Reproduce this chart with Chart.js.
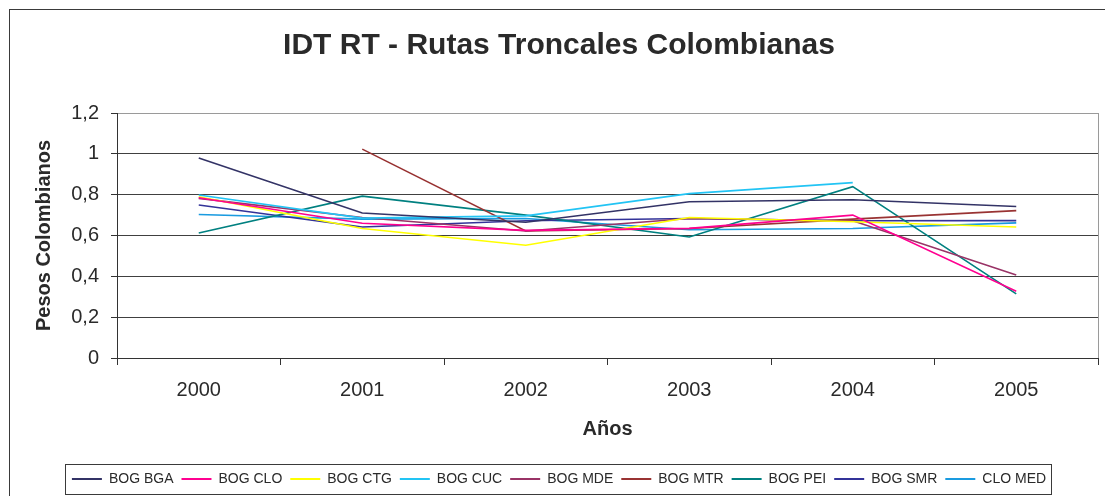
<!DOCTYPE html>
<html>
<head>
<meta charset="utf-8">
<script src="https://cdn.jsdelivr.net/npm/chart.js@4/dist/chart.umd.min.js"></script>
<style>
  html, body { margin: 0; padding: 0; background: #ffffff; }
  canvas { display: block; }
</style>
</head>
<body>
<canvas id="chart" width="1105" height="496"></canvas>
<script>
// Años (categorías del eje X)
const years = ['2000', '2001', '2002', '2003', '2004', '2005'];

// Nombres de las rutas y sus colores
const routeNames = ['BOG BGA', 'BOG CLO', 'BOG CTG', 'BOG CUC', 'BOG MDE', 'BOG MTR', 'BOG PEI', 'BOG SMR', 'CLO MED'];
const routeColors = ['#333366', '#ff0090', '#ffff00', '#22c4f4', '#993366', '#993333', '#008080', '#333399', '#1a9be0'];

// Índice IDT por ruta y año (pesos colombianos); null = sin dato
const bogBga = [0.98, 0.71, 0.665, 0.765, 0.775, 0.742];
const bogClo = [0.785, 0.66, 0.625, 0.635, 0.70, 0.327];
const bogCtg = [0.79, 0.634, 0.552, 0.688, 0.667, 0.642];
const bogCuc = [0.798, 0.685, 0.696, 0.805, 0.859, null];
const bogMde = [0.782, 0.688, 0.622, 0.683, 0.672, 0.407];
const bogMtr = [null, 1.023, 0.622, 0.634, 0.68, 0.722];
const bogPei = [0.612, 0.793, 0.70, 0.593, 0.839, 0.314];
const bogSmr = [0.749, 0.642, 0.672, 0.683, 0.672, 0.673];
const cloMed = [0.703, 0.68, 0.683, 0.628, 0.634, 0.662];

// Marcas del eje Y
const yTicksMin = 0;
const yTicksMax = 1.2;
const yTicksStep = 0.2;

const routeValues = [bogBga, bogClo, bogCtg, bogCuc, bogMde, bogMtr, bogPei, bogSmr, cloMed];

const FONT = '"Liberation Sans", Arial, sans-serif';
const TEXT = '#2a2a2a';

const crisp = v => Math.round(v - 0.5) + 0.5;

// Fondo, marco exterior, borde del área de trazado y recuadro de la leyenda
const framePlugin = {
  id: 'frame',
  beforeDraw(chart) {
    const ctx = chart.ctx;
    ctx.save();
    ctx.fillStyle = '#ffffff';
    ctx.fillRect(0, 0, chart.width, chart.height);
    ctx.strokeStyle = '#3a3a3a';
    ctx.lineWidth = 1;
    ctx.strokeRect(9.5, 9.5, chart.width + 50, chart.height + 50);
    ctx.restore();
  },
  beforeDatasetsDraw(chart) {
    const ctx = chart.ctx;
    const a = chart.chartArea;
    ctx.save();
    ctx.strokeStyle = '#9a9a9a';
    ctx.lineWidth = 1;
    ctx.beginPath();
    ctx.moveTo(crisp(a.right), a.top);
    ctx.lineTo(crisp(a.right), a.bottom);
    ctx.stroke();
    ctx.restore();
  },
  afterDraw(chart) {
    const lg = chart.legend;
    if (!lg || !lg.legendHitBoxes || !lg.legendHitBoxes.length) return;
    const boxes = lg.legendHitBoxes;
    const left = Math.min(...boxes.map(b => b.left)) - 6;
    const right = Math.max(...boxes.map(b => b.left + b.width)) + 6;
    const top = boxes[0].top - 8;
    const ctx = chart.ctx;
    ctx.save();
    ctx.strokeStyle = '#3a3a3a';
    ctx.lineWidth = 1;
    ctx.strokeRect(crisp(left), crisp(top), Math.round(right - left), 30);
    ctx.restore();
  }
};

new Chart(document.getElementById('chart'), {
  type: 'line',
  data: {
    labels: years,
    datasets: routeNames.map((name, i) => ({
      label: name,
      data: routeValues[i],
      borderColor: routeColors[i],
      backgroundColor: routeColors[i],
      borderWidth: 1.6,
      pointRadius: 0,
      pointHoverRadius: 0,
      tension: 0,
      fill: false,
      spanGaps: false
    }))
  },
  options: {
    responsive: false,
    animation: false,
    events: [],
    layout: { padding: { left: 20, right: 7, top: 0, bottom: 0 } },
    plugins: {
      title: {
        display: true,
        text: 'IDT RT - Rutas Troncales Colombianas',
        color: TEXT,
        font: { family: FONT, size: 30, weight: 'bold' },
        padding: { top: 28, bottom: 49 }
      },
      legend: {
        display: true,
        position: 'bottom',
        maxHeight: 33,
        labels: {
          color: TEXT,
          font: { family: FONT, size: 14 },
          boxWidth: 30,
          boxHeight: 2,
          padding: 8,
          generateLabels: chart => chart.data.datasets.map((d, i) => ({
            text: d.label,
            fillStyle: d.borderColor,
            strokeStyle: d.borderColor,
            lineWidth: 0,
            hidden: false,
            datasetIndex: i,
            fontColor: TEXT
          }))
        }
      },
      tooltip: { enabled: false }
    },
    scales: {
      x: {
        type: 'category',
        offset: true,
        afterFit: s => { s.height = 106; },
        grid: {
          display: true,
          offset: true,
          drawOnChartArea: false,
          drawTicks: true,
          tickLength: 7,
          color: '#333333',
          tickColor: '#333333'
        },
        border: { display: true, color: '#333333', width: 1 },
        ticks: {
          color: TEXT,
          font: { family: FONT, size: 20 },
          padding: 13,
          maxRotation: 0,
          autoSkip: false
        },
        title: {
          display: true,
          text: 'Años',
          color: TEXT,
          font: { family: FONT, size: 20, weight: 'bold' },
          padding: { top: 0, bottom: 23 }
        }
      },
      y: {
        type: 'linear',
        min: yTicksMin,
        max: yTicksMax,
        afterFit: s => { s.width = 97; },
        grid: {
          display: true,
          drawOnChartArea: true,
          drawTicks: true,
          tickLength: 6,
          color: c => (c.index === 6 ? '#9a9a9a' : '#404040'),
          tickColor: '#333333'
        },
        border: { display: true, color: '#333333', width: 1 },
        ticks: {
          stepSize: yTicksStep,
          color: TEXT,
          font: { family: FONT, size: 20 },
          padding: 12,
          callback: v => String(Math.round(v * 10) / 10).replace('.', ',')
        },
        title: {
          display: true,
          text: 'Pesos Colombianos',
          color: TEXT,
          font: { family: FONT, size: 20, weight: 'bold' },
          padding: { top: 12, bottom: 0 }
        }
      }
    }
  },
  plugins: [framePlugin]
});
</script>
</body>
</html>
